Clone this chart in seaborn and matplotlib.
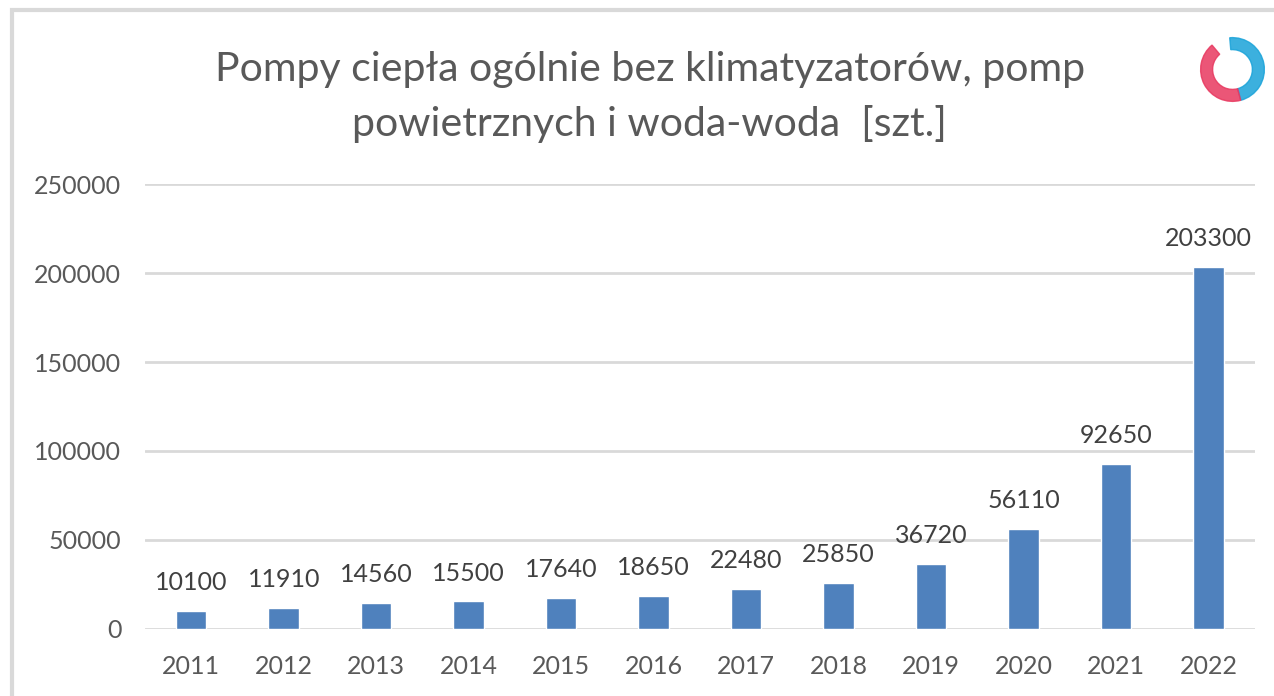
import matplotlib
matplotlib.use('Agg')
import matplotlib.pyplot as plt
import matplotlib.patches as mpatches
import seaborn as sns
import pandas as pd

years = ['2011', '2012', '2013', '2014', '2015', '2016', '2017', '2018', '2019', '2020', '2021', '2022']
units = [10100, 11910, 14560, 15500, 17640, 18650, 22480, 25850, 36720, 56110, 92650, 203300]
yticks = [0, 50000, 100000, 150000, 200000, 250000]

df = pd.DataFrame({'Rok': years, 'Sztuki': units})

sns.set_theme(style='white')
plt.rcParams['font.family'] = ['Lato', 'DejaVu Sans']

fig = plt.figure(figsize=(12.74, 6.96), dpi=100)
ax = fig.add_axes([0.1138, 0.0963, 0.8712, 0.6393])

sns.barplot(data=df, x='Rok', y='Sztuki', color='#4f81bd', width=0.33, saturation=1, ax=ax)

for i, v in enumerate(units):
    ax.annotate(str(v), (i, v), xytext=(0, 12), textcoords='offset points',
                ha='center', va='bottom', fontsize=18, color='#404040')

ax.set_ylim(0, 250000)
ax.set_yticks(yticks)
ax.set_yticklabels([str(t) for t in yticks])
ax.set_xlim(-0.5, len(years) - 0.5)
ax.yaxis.grid(True, color='#d9d9d9', linewidth=2)
ax.set_axisbelow(True)
for s in ax.spines.values():
    s.set_visible(False)
ax.tick_params(axis='both', length=0, labelsize=18, labelcolor='#595959')
ax.tick_params(axis='y', pad=17)
ax.tick_params(axis='x', pad=19)
ax.set_xlabel('')
ax.set_ylabel('')

fig.text(0.51, 0.861, 'Pompy ciepła ogólnie bez klimatyzatorów, pomp\npowietrznych i woda-woda  [szt.]',
         ha='center', va='center', fontsize=29.5, color='#595959', linespacing=1.55)

# ramka wykresu
fig.add_artist(mpatches.Rectangle((12 / 1274, -0.1), 1.2, 1.1 - 10 / 696, transform=fig.transFigure,
                                  fill=False, edgecolor='#d9d9d9', linewidth=3))

# logo
lax = fig.add_axes([1195 / 1274, 1 - 107 / 696, 75 / 1274, 75 / 696])
lax.set_aspect('equal')
lax.axis('off')
lax.set_xlim(-1, 1)
lax.set_ylim(-1, 1)
lax.add_patch(mpatches.Wedge((0, 0), 0.85, -75, 95, width=0.32, color='#1aa3d9', alpha=0.85))
lax.add_patch(mpatches.Wedge((0, 0), 0.85, 130, 285, width=0.32, color='#e8385f', alpha=0.85))

plt.savefig('out.png', dpi=100)
